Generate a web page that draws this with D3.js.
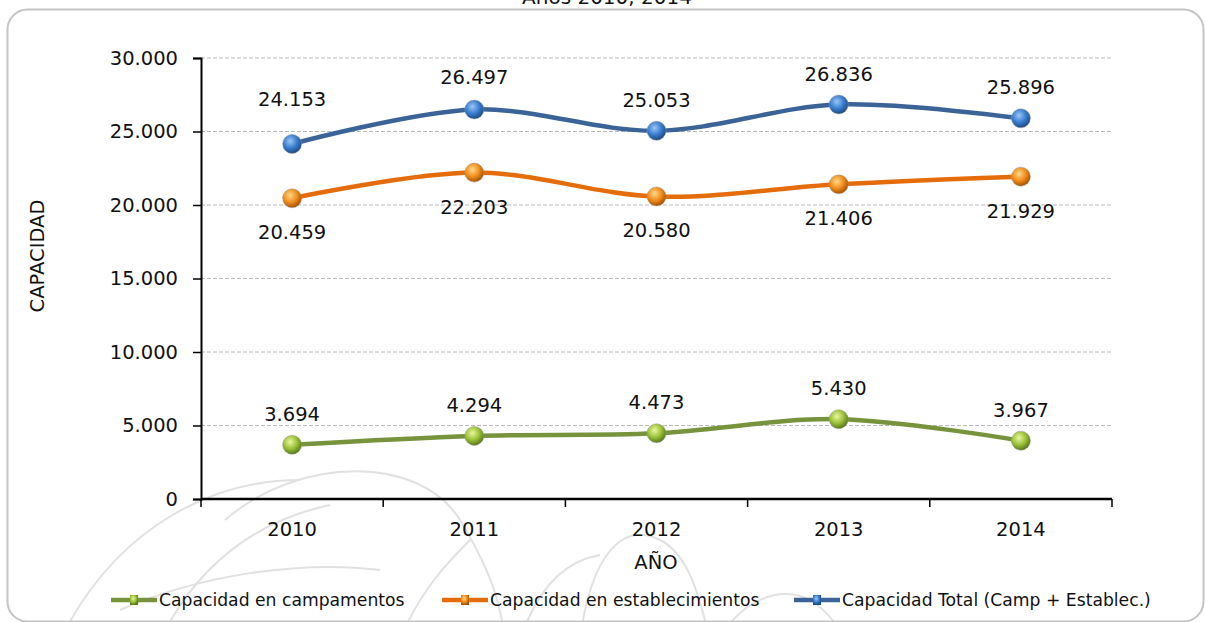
<!DOCTYPE html>
<html>
<head>
<meta charset="utf-8">
<script src="https://cdn.jsdelivr.net/npm/d3@7"></script>
<style>
  body { margin: 0; background: #fff; }
  svg text { font-family: "DejaVu Sans", Verdana, sans-serif; fill: #111; }
</style>
</head>
<body>
<div id="chart"></div>
<script>
// chart data
var years = ["2010", "2011", "2012", "2013", "2014"];
var campamentos = [3694, 4294, 4473, 5430, 3967];
var establecimientos = [20459, 22203, 20580, 21406, 21929];
var total = [24153, 26497, 25053, 26836, 25896];
var yTicks = [0, 5000, 10000, 15000, 20000, 25000, 30000];
var seriesNames = ["Capacidad en campamentos", "Capacidad en establecimientos", "Capacidad Total (Camp + Establec.)"];

var W = 1205, H = 622;
var svg = d3.select("#chart").append("svg").attr("width", W).attr("height", H);
var defs = svg.append("defs");

// sphere-like marker gradients; label offsets are distances from the point to the label baseline
var styles = [
  {line: "#77933c", hi: "#eaf7a0", mid: "#9cc33a", lo: "#5a7a1a", labelDy: [-24, -24, -24, -24, -24]},
  {line: "#e46c0a", hi: "#ffd98a", mid: "#f28e1e", lo: "#a85200", labelDy: [41, 41, 41, 41, 41]},
  {line: "#3a6497", hi: "#9cc6f5", mid: "#3a7fd0", lo: "#1d4b86", labelDy: [-38, -25, -24, -24, -24]}
];
styles.forEach(function(s, i) {
  var g = defs.append("radialGradient").attr("id", "grad" + i)
    .attr("cx", "40%").attr("cy", "35%").attr("r", "65%");
  g.append("stop").attr("offset", "0%").attr("stop-color", s.hi);
  g.append("stop").attr("offset", "55%").attr("stop-color", s.mid);
  g.append("stop").attr("offset", "100%").attr("stop-color", s.lo);
});

// frame
defs.append("clipPath").attr("id", "frameClip").append("rect")
  .attr("x", 7.5).attr("y", 9.5).attr("width", 1196).attr("height", 612).attr("rx", 20);
svg.append("rect").attr("x", 7.5).attr("y", 9.5).attr("width", 1196).attr("height", 612)
  .attr("rx", 20).attr("fill", "#fff").attr("stroke", "#c4c4c4").attr("stroke-width", 2);

// faint background swirls
var deco = svg.append("g").attr("clip-path", "url(#frameClip)")
  .attr("fill", "none").attr("stroke", "#c4c4c4").attr("stroke-width", 2).attr("opacity", 0.5);
var swirls = [
  "M60,640 C120,520 220,480 300,480",
  "M225,520 C300,455 420,455 460,520 C490,570 500,600 505,640",
  "M160,640 C200,560 260,520 330,505",
  "M580,640 C590,560 620,520 660,540 C690,555 700,600 710,640",
  "M520,640 C540,580 570,560 600,555",
  "M720,640 C740,600 780,585 810,600 C830,612 840,630 845,640",
  "M120,610 C200,575 300,560 380,570",
  "M400,640 C420,590 450,560 470,540"
];
deco.selectAll("path").data(swirls).enter().append("path").attr("d", function(d) { return d; });

// title (cut off at top)
svg.append("text").attr("x", 607).attr("y", 4).attr("text-anchor", "middle")
  .style("font-size", "20px").text("Años 2010, 2014");

var plotLeft = 201, plotRight = 1112, plotTop = 58, plotBottom = 499;
var x = d3.scaleBand().domain(years).range([plotLeft, plotRight]);
var y = d3.scaleLinear().domain([0, 30000]).range([plotBottom, plotTop]);
var fmt = function(v) { return d3.format(",")(v).replace(/,/g, "."); };
var cx = function(i) { return x(years[i]) + x.bandwidth() / 2; };

// gridlines
svg.append("g").selectAll("line").data(yTicks.slice(1)).enter().append("line")
  .attr("x1", plotLeft).attr("x2", plotRight)
  .attr("y1", function(d) { return y(d); }).attr("y2", function(d) { return y(d); })
  .attr("stroke", "#b8b8b8").attr("stroke-width", 1).attr("stroke-dasharray", "4,2");

// y axis
var yAxis = svg.append("g").attr("transform", "translate(" + plotLeft + ",0)")
  .call(d3.axisLeft(y).tickValues(yTicks).tickFormat(fmt).tickSize(8).tickPadding(15));
yAxis.select(".domain").attr("stroke", "#000").attr("stroke-width", 2);
yAxis.selectAll(".tick line").attr("stroke", "#000").attr("stroke-width", 1.5);
yAxis.selectAll("text").style("font-size", "19.5px").attr("fill", "#111");

// x axis with ticks on category boundaries
var xAxis = svg.append("g").attr("transform", "translate(0," + plotBottom + ")");
xAxis.append("line").attr("x1", plotLeft).attr("x2", plotRight).attr("stroke", "#000").attr("stroke-width", 2.5);
var bounds = years.map(function(d) { return x(d); }).concat([plotRight]);
xAxis.selectAll(".bt").data(bounds).enter().append("line")
  .attr("x1", function(d) { return d; }).attr("x2", function(d) { return d; })
  .attr("y1", 0).attr("y2", 8).attr("stroke", "#000").attr("stroke-width", 1.5);
xAxis.selectAll(".xl").data(years).enter().append("text")
  .attr("x", function(d) { return x(d) + x.bandwidth() / 2; }).attr("y", 37)
  .attr("text-anchor", "middle").style("font-size", "19.5px").text(function(d) { return d; });

// axis titles
svg.append("text").attr("x", 656).attr("y", 569).attr("text-anchor", "middle")
  .style("font-size", "19.5px").text("AÑO");
svg.append("text").attr("transform", "translate(44,256) rotate(-90)").attr("text-anchor", "middle")
  .style("font-size", "19.5px").text("CAPACIDAD");

// series
var allSeries = [campamentos, establecimientos, total];
var line = d3.line()
  .x(function(d, i) { return cx(i); })
  .y(function(d) { return y(d); })
  .curve(d3.curveCatmullRom.alpha(0.5));

allSeries.forEach(function(vals, si) {
  var s = styles[si];
  var g = svg.append("g");
  g.append("path").datum(vals).attr("d", line)
    .attr("fill", "none").attr("stroke", s.line).attr("stroke-width", 4.5);
  g.selectAll("circle").data(vals).enter().append("circle")
    .attr("cx", function(d, i) { return cx(i); })
    .attr("cy", function(d) { return y(d); })
    .attr("r", 9.5).attr("fill", "url(#grad" + si + ")")
    .attr("stroke", "#999").attr("stroke-width", 0.8).attr("stroke-opacity", 0.6);
  g.selectAll("text").data(vals).enter().append("text")
    .attr("x", function(d, i) { return cx(i); })
    .attr("y", function(d, i) { return y(d) + s.labelDy[i]; })
    .attr("text-anchor", "middle").style("font-size", "19.5px")
    .text(function(d) { return fmt(d); });
});

// legend
var legendX = [111, 442, 794];
var legend = svg.append("g").attr("transform", "translate(0,600)");
seriesNames.forEach(function(name, i) {
  var s = styles[i];
  var lg = legend.append("g").attr("transform", "translate(" + legendX[i] + ",0)");
  lg.append("line").attr("x1", 0).attr("x2", 46).attr("y1", 0).attr("y2", 0)
    .attr("stroke", s.line).attr("stroke-width", 4.5);
  lg.append("rect").attr("x", 19).attr("y", -5).attr("width", 8).attr("height", 10)
    .attr("fill", "url(#grad" + i + ")");
  lg.append("text").attr("x", 48).attr("y", 6).style("font-size", "17.2px").text(name);
});
</script>
</body>
</html>
